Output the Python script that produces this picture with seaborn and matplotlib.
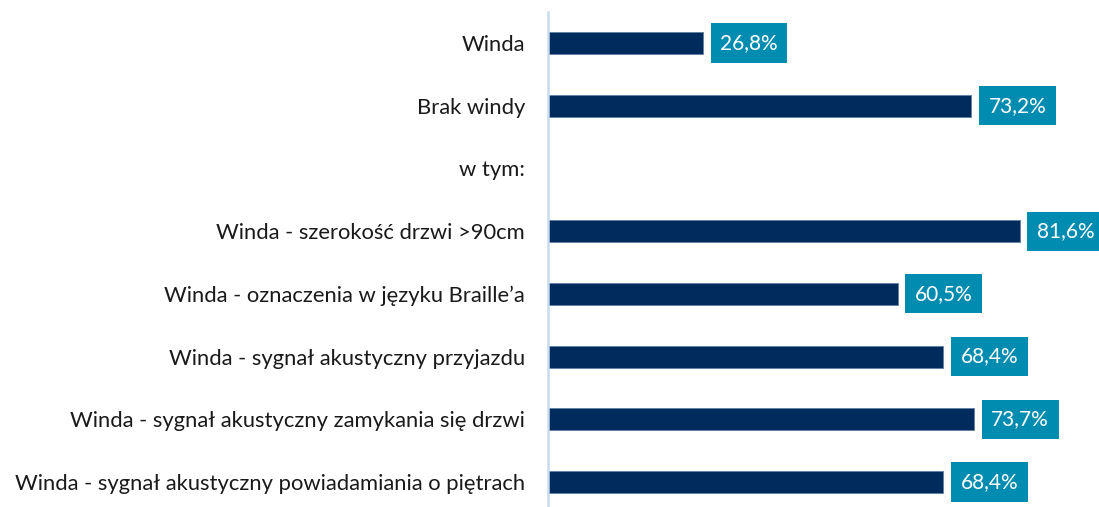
import numpy as np
import pandas as pd
import matplotlib
matplotlib.use("Agg")
import matplotlib.pyplot as plt
import seaborn as sns

categories = [
    "Winda",
    "Brak windy",
    "w tym:",
    "Winda - szerokość drzwi >90cm",
    "Winda - oznaczenia w języku Braille\u2019a",
    "Winda - sygnał akustyczny przyjazdu",
    "Winda - sygnał akustyczny zamykania się drzwi",
    "Winda - sygnał akustyczny powiadamiania o piętrach",
]
values = [26.8, 73.2, np.nan, 81.6, 60.5, 68.4, 73.7, 68.4]

sns.set_theme(style="white")
plt.rcParams["font.family"] = ["Lato", "DejaVu Sans"]

df = pd.DataFrame({"kategoria": categories, "udzial": values})

W, H = 1099, 507
px_per_unit = 5.78
fig = plt.figure(figsize=(W / 100, H / 100), dpi=100)
ax = fig.add_axes([548 / W, 0, 1 - 548 / W, 1 - 12 / H])

bar_color = "#002b5c"
box_color = "#008bb0"

sns.barplot(data=df, x="udzial", y="kategoria", order=categories,
            color=bar_color, width=0.35, orient="h", ax=ax,
            edgecolor="#5f7fa3", linewidth=0.6, saturation=1)

for i, v in enumerate(values):
    if np.isnan(v):
        continue
    ax.text(v + 3.0, i, f"{v:.1f}%".replace(".", ","), va="center", ha="left",
            fontsize=15, color="white",
            bbox=dict(boxstyle="square,pad=0.46", fc=box_color, ec="none"))

ax.set_xlim(0, (W - 548) / px_per_unit)
ax.set_ylim(7 + 25 / 62.7, -31 / 62.7)
ax.set_xlabel("")
ax.set_ylabel("")
ax.set_xticks([])
ax.tick_params(axis="y", length=0, pad=16.5, labelsize=15.8, labelcolor="#1a1a1a")
for s in ["top", "right", "bottom"]:
    ax.spines[s].set_visible(False)
ax.spines["left"].set_color("#c8dcf0")
ax.spines["left"].set_linewidth(1.8)

fig.savefig("out.png", dpi=100)
